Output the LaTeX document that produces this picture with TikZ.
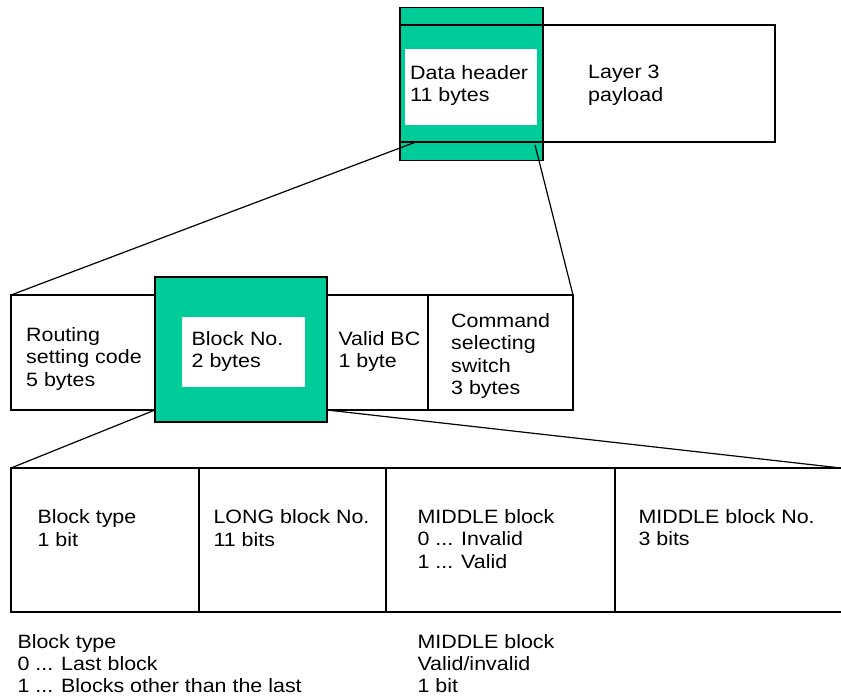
\documentclass[tikz,border=0pt]{standalone}
\usepackage{fontspec}
\setmainfont{Liberation Sans}[FakeStretch=1.11]
\usetikzlibrary{positioning}
\definecolor{hdrgreen}{RGB}{0,204,153}
\tikzset{x=1pt, y=-1pt,
    cell/.style={
        draw,
        line width=1.4pt,
        inner sep=0pt,
        outer sep=0pt,
        anchor=north west},
    hdrbox/.style={
        cell,
        fill=hdrgreen},
    holebox/.style={
        fill=white,
        inner sep=0pt,
        outer sep=0pt,
        anchor=north west},
    lbl/.style={
        anchor=north west,
        inner sep=0pt,
        align=left,
        font=\fontsize{19.3}{22.5}\selectfont},
    note/.style={
        lbl,
        font=\fontsize{19.3}{22}\selectfont},
    zoomline/.style={
        line width=1.2pt}}

\begin{document}
\begin{tikzpicture}
        \useasboundingbox (0,0) rectangle (841,697);

        % layer 3 frame
        \node[cell, minimum width=232pt, minimum height=117pt] (pay) at (543,25) {};
        \node[hdrbox, minimum width=143pt, minimum height=153pt] (hdr) at (400,7.5) {};
        \node[holebox, minimum width=132pt, minimum height=76pt] (hdrin) at (405,49) {};
        \draw[line width=1.4pt] (hdr.west |- pay.north) -- (pay.north west);
        \draw[line width=1.4pt] (hdr.west |- pay.south) -- (pay.south west);
        \node[lbl] (hdrtxt) at (410,65.2) {Data header\\11 bytes};
        \node[lbl] (paytxt) at (588,65.2) {Layer 3\\payload};

        % data header
        \node[cell, minimum width=144pt, minimum height=115pt] (rsc) at (11,295) {};
        \node[cell, minimum width=101pt, minimum height=115pt] (vbc) at (327,295) {};
        \node[cell, minimum width=145pt, minimum height=115pt] (css) at (428,295) {};
        \node[hdrbox, minimum width=172pt, minimum height=145pt] (blk) at (155,277) {};
        \node[holebox, minimum width=123pt, minimum height=70pt] (blkin) at (182,317) {};
        \node[lbl] (rsctxt) at (26,326.9) {Routing\\setting code\\5 bytes};
        \node[lbl] (blktxt) at (191.5,331.2) {Block No.\\2 bytes};
        \node[lbl] (vbctxt) at (338.3,331.2) {Valid BC\\1 byte};
        \node[lbl] (csstxt) at (451,312.9) {Command\\selecting\\switch\\3 bytes};

        \coordinate (hdrl) at (415,142.3);
        \coordinate (hdrr) at (535,145);
        \draw[zoomline] (hdrl) -- (rsc.north west);
        \draw[zoomline] (hdrr) -- (css.north east);

        % block number
        \node[cell, minimum width=188pt, minimum height=144pt] (bt) at (11,468) {};
        \node[cell, minimum width=187pt, minimum height=144pt] (lbn) at (199,468) {};
        \node[cell, minimum width=229pt, minimum height=144pt] (mvf) at (386,468) {};
        \coordinate (rend) at (841,468);
        \coordinate (rendb) at (841,612);
        \draw[line width=1.4pt] (mvf.north east) -- (rend);
        \draw[line width=1.4pt] (mvf.south east) -- (rendb);
        \node[lbl] (bttxt) at (37.3,509.5) {Block type\\1 bit};
        \node[lbl] (lbntxt) at (213.3,509.5) {LONG block No.\\11 bits};
        \node[lbl] (mvftxt) at (417.3,508.9) {MIDDLE block\\0 ... Invalid\\1 ... Valid};
        \node[lbl] (mbntxt) at (638.3,508.9) {MIDDLE block No.\\3 bits};

        \draw[zoomline] (rsc.south east) -- (bt.north west);
        \draw[zoomline] (vbc.south west) -- (rend);

        \node[note] (btnote) at (17.3,634) {Block type\\0 ... Last block\\1 ... Blocks other than the last};
        \node[note] (mvfnote) at (417.3,634) {MIDDLE block\\Valid/invalid\\1 bit};
    \end{tikzpicture}
\end{document}
